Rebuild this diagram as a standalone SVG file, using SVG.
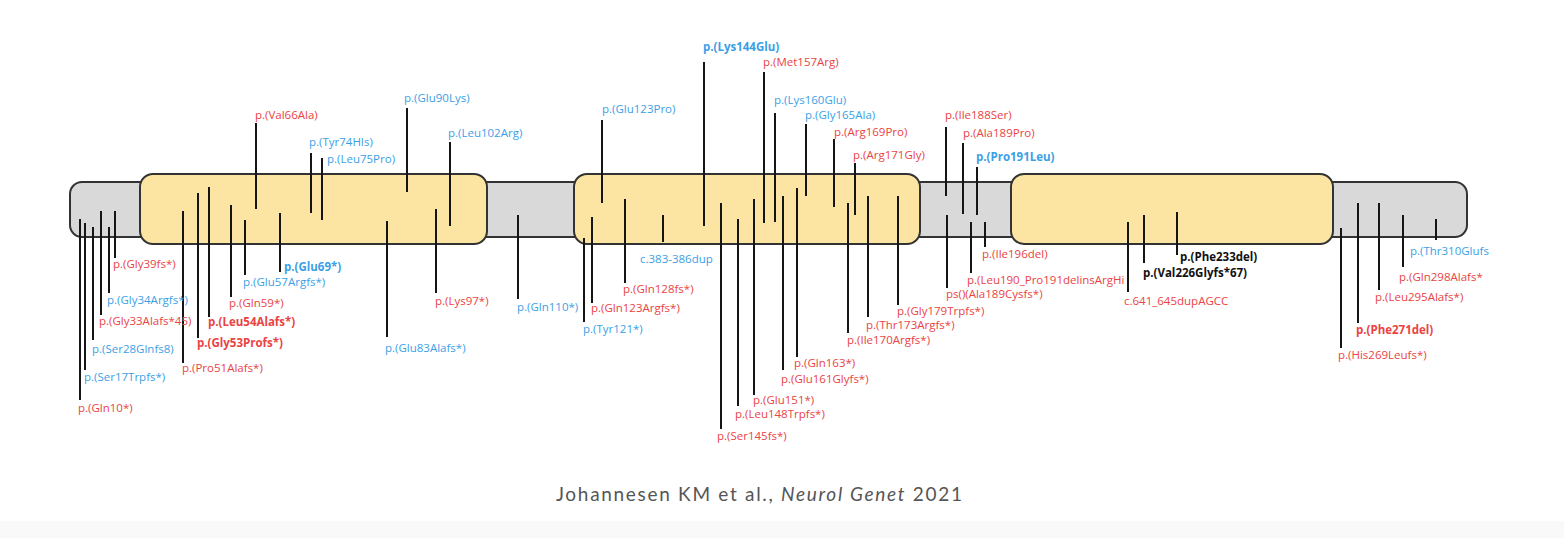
<svg xmlns="http://www.w3.org/2000/svg" width="1564" height="538" viewBox="0 0 1564 538">
<style>
.bg{fill:#ffffff}
.strip{fill:#f9f9f9}
.linker{fill:#d9d9d9;stroke:#333;stroke-width:2}
.domain{fill:#fce5a2;stroke:#333;stroke-width:2}
#connectors line{stroke:#151515;stroke-width:2}
text{font-family:"Open Sans","Noto Sans","Liberation Sans",sans-serif;font-size:11.5px}
.r{fill:#ea4343}
.b{fill:#3b9fe6}
.k{fill:#111}
.bd{font-weight:bold}
.cap{font-family:Lato,"Open Sans","Liberation Sans",sans-serif;font-size:19px;fill:#555}
</style>
<rect class="bg" x="0" y="0" width="1564" height="538"/>
<rect class="strip" x="0" y="521" width="1564" height="17"/>
<g id="protein">
<rect id="linker" class="linker" x="70" y="182" width="1397" height="55" rx="12"/>
<rect id="domain1" class="domain" x="140" y="174" width="347" height="70" rx="13"/>
<rect id="domain2" class="domain" x="574" y="174" width="346" height="70" rx="13"/>
<rect id="domain3" class="domain" x="1011" y="174" width="322" height="70" rx="13"/>
</g>
<g id="connectors">
<line x1="80" y1="219" x2="80" y2="400"/>
<line x1="85" y1="223" x2="85" y2="370"/>
<line x1="93" y1="227" x2="93" y2="340"/>
<line x1="101" y1="211" x2="101" y2="315"/>
<line x1="109" y1="227" x2="109" y2="293"/>
<line x1="115" y1="211" x2="115" y2="258"/>
<line x1="183" y1="211" x2="183" y2="363"/>
<line x1="198" y1="193" x2="198" y2="338"/>
<line x1="209" y1="187" x2="209" y2="317"/>
<line x1="231" y1="205" x2="231" y2="297"/>
<line x1="245" y1="220" x2="245" y2="275"/>
<line x1="280" y1="213" x2="280" y2="272"/>
<line x1="256" y1="123" x2="256" y2="209"/>
<line x1="311" y1="153" x2="311" y2="213"/>
<line x1="322" y1="158" x2="322" y2="220"/>
<line x1="407" y1="108" x2="407" y2="192"/>
<line x1="450" y1="142" x2="450" y2="226"/>
<line x1="436" y1="209" x2="436" y2="293"/>
<line x1="387" y1="221" x2="387" y2="337"/>
<line x1="518" y1="215" x2="518" y2="299"/>
<line x1="602" y1="120" x2="602" y2="203"/>
<line x1="584" y1="238" x2="584" y2="322"/>
<line x1="592" y1="217" x2="592" y2="303"/>
<line x1="625" y1="199" x2="625" y2="283"/>
<line x1="663" y1="215" x2="663" y2="242"/>
<line x1="704" y1="62" x2="704" y2="226"/>
<line x1="764" y1="72" x2="764" y2="223"/>
<line x1="775" y1="113" x2="775" y2="222"/>
<line x1="806" y1="124" x2="806" y2="196"/>
<line x1="834" y1="139" x2="834" y2="207"/>
<line x1="855" y1="163" x2="855" y2="215"/>
<line x1="721" y1="203" x2="721" y2="429"/>
<line x1="738" y1="219" x2="738" y2="406"/>
<line x1="754" y1="199" x2="754" y2="395"/>
<line x1="783" y1="196" x2="783" y2="370"/>
<line x1="797" y1="188" x2="797" y2="357"/>
<line x1="848" y1="203" x2="848" y2="333"/>
<line x1="868" y1="196" x2="868" y2="317"/>
<line x1="898" y1="196" x2="898" y2="305"/>
<line x1="946" y1="127" x2="946" y2="196"/>
<line x1="963" y1="143" x2="963" y2="214"/>
<line x1="977" y1="167" x2="977" y2="215"/>
<line x1="985" y1="222" x2="985" y2="247"/>
<line x1="971" y1="222" x2="971" y2="273"/>
<line x1="947" y1="215" x2="947" y2="288"/>
<line x1="1128" y1="222" x2="1128" y2="292"/>
<line x1="1144" y1="215" x2="1144" y2="263"/>
<line x1="1177" y1="212" x2="1177" y2="255"/>
<line x1="1341" y1="228" x2="1341" y2="348"/>
<line x1="1358" y1="203" x2="1358" y2="323"/>
<line x1="1379" y1="203" x2="1379" y2="290"/>
<line x1="1403" y1="215" x2="1403" y2="267"/>
<line x1="1436" y1="219" x2="1436" y2="240"/>
</g>
<g id="labels">
<g id="m-gln10"><text class="r" x="78" y="412">p.(Gln10*)</text></g>
<g id="m-ser17"><text class="b" x="84" y="381">p.(Ser17Trpfs*)</text></g>
<g id="m-ser28"><text class="b" x="92" y="353">p.(Ser28Glnfs8)</text></g>
<g id="m-gly33"><text class="r" x="99" y="325">p.(Gly33Alafs*45)</text></g>
<g id="m-gly34"><text class="b" x="107" y="304">p.(Gly34Argfs*)</text></g>
<g id="m-gly39"><text class="r" x="113" y="268">p.(Gly39fs*)</text></g>
<g id="m-pro51"><text class="r" x="182" y="372">p.(Pro51Alafs*)</text></g>
<g id="m-gly53"><text class="r bd" x="197" y="347">p.(Gly53Profs*)</text></g>
<g id="m-leu54"><text class="r bd" x="208" y="326">p.(Leu54Alafs*)</text></g>
<g id="m-gln59"><text class="r" x="229" y="307">p.(Gln59*)</text></g>
<g id="m-glu57"><text class="b" x="243" y="286">p.(Glu57Argfs*)</text></g>
<g id="m-glu69"><text class="b bd" x="284" y="271">p.(Glu69*)</text></g>
<g id="m-val66"><text class="r" x="255" y="119">p.(Val66Ala)</text></g>
<g id="m-tyr74"><text class="b" x="309" y="146">p.(Tyr74HIs)</text></g>
<g id="m-leu75"><text class="b" x="327" y="163">p.(Leu75Pro)</text></g>
<g id="m-glu90"><text class="b" x="404" y="102">p.(Glu90Lys)</text></g>
<g id="m-leu102"><text class="b" x="448" y="137">p.(Leu102Arg)</text></g>
<g id="m-lys97"><text class="r" x="435" y="305">p.(Lys97*)</text></g>
<g id="m-glu83"><text class="b" x="385" y="352">p.(Glu83Alafs*)</text></g>
<g id="m-gln110"><text class="b" x="517" y="311">p.(Gln110*)</text></g>
<g id="m-glu123"><text class="b" x="602" y="113">p.(Glu123Pro)</text></g>
<g id="m-tyr121"><text class="b" x="583" y="333">p.(Tyr121*)</text></g>
<g id="m-gln123"><text class="r" x="591" y="312">p.(Gln123Argfs*)</text></g>
<g id="m-gln128"><text class="r" x="623" y="293">p.(Gln128fs*)</text></g>
<g id="m-c383"><text class="b" x="640" y="263">c.383-386dup</text></g>
<g id="m-lys144"><text class="b bd" x="703" y="51">p.(Lys144Glu)</text></g>
<g id="m-met157"><text class="r" x="763" y="66">p.(Met157Arg)</text></g>
<g id="m-lys160"><text class="b" x="774" y="104">p.(Lys160Glu)</text></g>
<g id="m-gly165"><text class="b" x="805" y="119">p.(Gly165Ala)</text></g>
<g id="m-arg169"><text class="r" x="834" y="136">p.(Arg169Pro)</text></g>
<g id="m-arg171"><text class="r" x="853" y="159">p.(Arg171Gly)</text></g>
<g id="m-ser145"><text class="r" x="717" y="440">p.(Ser145fs*)</text></g>
<g id="m-leu148"><text class="r" x="735" y="418">p.(Leu148Trpfs*)</text></g>
<g id="m-glu151"><text class="r" x="753" y="404">p.(Glu151*)</text></g>
<g id="m-glu161"><text class="r" x="781" y="383">p.(Glu161Glyfs*)</text></g>
<g id="m-gln163"><text class="r" x="794" y="367">p.(Gln163*)</text></g>
<g id="m-ile170"><text class="r" x="847" y="344">p.(Ile170Argfs*)</text></g>
<g id="m-thr173"><text class="r" x="866" y="329">p.(Thr173Argfs*)</text></g>
<g id="m-gly179"><text class="r" x="897" y="315">p.(Gly179Trpfs*)</text></g>
<g id="m-ile188"><text class="r" x="945" y="119">p.(Ile188Ser)</text></g>
<g id="m-ala189"><text class="r" x="963" y="137">p.(Ala189Pro)</text></g>
<g id="m-pro191"><text class="b bd" x="976" y="161">p.(Pro191Leu)</text></g>
<g id="m-ile196"><text class="r" x="982" y="258">p.(Ile196del)</text></g>
<g id="m-leu190"><text class="r" x="967" y="284">p.(Leu190_Pro191delinsArgHi</text></g>
<g id="m-ala189cys"><text class="r" x="946" y="298">ps()(Ala189Cysfs*)</text></g>
<g id="m-c641"><text class="r" x="1124" y="305">c.641_645dupAGCC</text></g>
<g id="m-val226"><text class="k bd" x="1143" y="277">p.(Val226Glyfs*67)</text></g>
<g id="m-phe233"><text class="k bd" x="1180" y="261">p.(Phe233del)</text></g>
<g id="m-his269"><text class="r" x="1338" y="359">p.(His269Leufs*)</text></g>
<g id="m-phe271"><text class="r bd" x="1356" y="334">p.(Phe271del)</text></g>
<g id="m-leu295"><text class="r" x="1375" y="301">p.(Leu295Alafs*)</text></g>
<g id="m-gln298"><text class="r" x="1399" y="281">p.(Gln298Alafs*</text></g>
<g id="m-thr310"><text class="b" x="1410" y="255">p.(Thr310Glufs</text></g>
</g>
<text class="cap" x="556" y="501" textLength="406" lengthAdjust="spacing">Johannesen KM et al., <tspan font-style="italic">Neurol Genet</tspan> 2021</text>
</svg>
